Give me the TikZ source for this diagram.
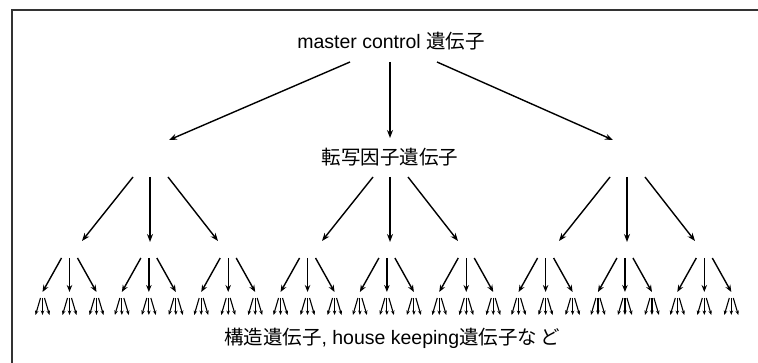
\documentclass[tikz,border=0pt]{standalone}
\usepackage{fontspec}
\setmainfont{Liberation Sans}
\newfontfamily\cjk{Noto Sans CJK JP}
\usetikzlibrary{arrows.meta}
\begin{document}
\begin{tikzpicture}[x=1pt,y=-1pt,
  arr/.style={line width=1.4pt,-{Stealth[length=8pt,width=6pt]}},
  arrsm/.style={line width=1.4pt,-{Stealth[length=7pt,width=5.5pt]}},
  tiny/.style={line width=1.1pt,-{Stealth[length=4.5pt,width=3.5pt]}},
  lbl/.style={font=\fontsize{19.5}{22}\selectfont, inner sep=0pt},
  frame/.style={line width=1.4pt, draw=black!80}]
\useasboundingbox (0,0) rectangle (758,363);
\coordinate (fa) at (12,363);
\coordinate (fb) at (12,10);
\coordinate (fc) at (758,10);
\draw[frame] (fa) -- (fb) -- (fc);
\node[lbl] (m) at (391,41) {master control {\cjk 遺伝子}};
\node[lbl] (t) at (390,157) {{\cjk 転写因子遺伝子}};
\node[lbl] (b) at (392,338) {{\cjk 構造遺伝子}, house keeping{\cjk 遺伝子な\,ど}};
% level 1
\coordinate (m1) at (350,62); \coordinate (n1) at (169,140);
\coordinate (m2) at (390,62); \coordinate (n2) at (390,138);
\coordinate (m3) at (437,62); \coordinate (n3) at (613,140);
\draw[arr] (m1) -- (n1);
\draw[arr] (m2) -- (n2);
\draw[arr] (m3) -- (n3);
% level 2
\foreach \c [count=\k] in {150,390,627} {
  \coordinate (a\k L) at (\c-17,177); \coordinate (b\k L) at (\c-68,241);
  \coordinate (a\k M) at (\c,177);    \coordinate (b\k M) at (\c,242);
  \coordinate (a\k R) at (\c+18,177); \coordinate (b\k R) at (\c+68,241);
  \draw[arr] (a\k L) -- (b\k L);
  \draw[arr] (a\k M) -- (b\k M);
  \draw[arr] (a\k R) -- (b\k R);
}
% level 3 and 4
\foreach \i in {0,...,8} {
  \pgfmathsetmacro\g{69.5+79.35*\i}
  \foreach \d/\e/\n in {-8/-27/L, 0/0/M, 8/27/R} {
    \coordinate (p\i\n) at (\g+\d,258);
    \coordinate (q\i\n) at (\g+\e,292);
    \draw[arrsm] (p\i\n) -- (q\i\n);
    \foreach \s/\t/\o in {-2/-7/L, 0/0/M, 2/7/R} {
      \coordinate (u\i\n\o) at (\g+\e+\s,298);
      \coordinate (v\i\n\o) at (\g+\e+\t,315);
      \draw[tiny] (u\i\n\o) -- (v\i\n\o);
    }
  }
}
\end{tikzpicture}
\end{document}
